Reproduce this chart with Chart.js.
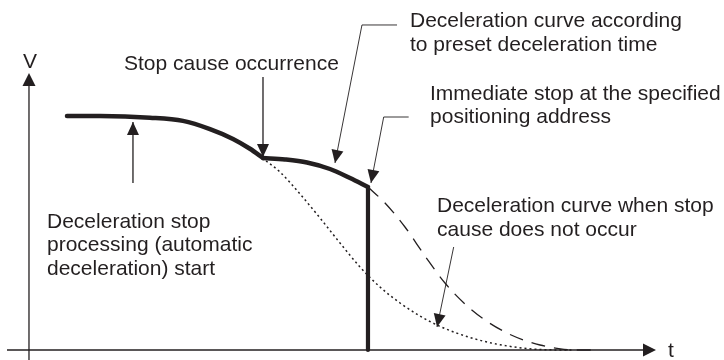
<!DOCTYPE html>
<html>
<head>
<meta charset="utf-8">
<script src="https://cdn.jsdelivr.net/npm/chart.js@4/dist/chart.umd.min.js"></script>
<style>
  html, body { margin: 0; padding: 0; background: #fff; }
  canvas { display: block; }
</style>
</head>
<body>
<canvas id="chart" width="724" height="360"></canvas>
<script>
// speed V (% of running speed) against time t (0..100 = end of t axis)
const runT = [6.07, 11.34, 19.33, 24.6, 28.91, 32.59, 35.3, 37.38];
const runV = [100, 100, 99.3, 97.9, 94.4, 90.2, 86.0, 82.05];
const presetT = [37.38, 40.89, 44.41, 48.08, 51.28, 54.15];
const presetV = [82.05, 81.41, 80.13, 77.35, 73.5, 69.66];
const stopT = [54.15, 54.15];
const stopV = [69.66, 0];
const presetRestT = [54.15, 56.87, 60.06, 63.26, 66.45, 69.65, 72.84, 76.36, 79.23, 81.63, 84.35, 86.9, 90.1];
const presetRestV = [69.66, 62.82, 52.56, 40.17, 28.63, 19.66, 12.82, 7.26, 4.06, 2.14, 0.73, 0, 0];
const noCauseT = [37.22, 40.1, 43.29, 46.49, 49.68, 52.88, 56.07, 59.27, 62.46, 65.65, 70.45, 75.24, 81.63, 86.9];
const noCauseV = [82.05, 76.07, 66.67, 56.41, 45.73, 35.47, 26.92, 20.09, 14.53, 10.09, 5.34, 2.26, 0.21, 0];

// annotation texts, anchored at (t, V) of the first line's left baseline
const labelLines = [
    ['Stop cause occurrence'],
    ['Deceleration curve according', 'to preset deceleration time'],
    ['Immediate stop at the specified', 'positioning address'],
    ['Deceleration stop', 'processing (automatic', 'deceleration) start'],
    ['Deceleration curve when stop', 'cause does not occur']
];
const labelT = [15.18, 60.86, 64.06, 2.88, 65.18];
const labelV = [119.66, 138.0, 106.84, 52.14, 58.97];

// leader arrows: polyline points in (t, V), last point is the arrow tip
const arrowT = [[37.38, 37.38], [16.61, 16.61], [58.79, 53.19, 48.88], [60.65, 56.66, 54.63], [67.84, 65.18]];
const arrowV = [[116.67, 82.48], [71.37, 97.44], [138.9, 138.9, 79.91], [99.57, 99.57, 71.37], [44.02, 9.83]];
const arrowThin = [false, false, true, true, true];

const axisT = [-3.51, 100.16];
const axisV = [-4.27, 118.4];

const ink = '#231f20';
const font = '21px "Liberation Sans", Arial, sans-serif';

function pts(ts, vs) {
    return ts.map((t, i) => ({ x: t, y: vs[i] }));
}

function arrowHead(ctx, x0, y0, x1, y1, len, half) {
    const a = Math.atan2(y1 - y0, x1 - x0);
    ctx.beginPath();
    ctx.moveTo(x1, y1);
    ctx.lineTo(x1 - len * Math.cos(a) + half * Math.sin(a), y1 - len * Math.sin(a) - half * Math.cos(a));
    ctx.lineTo(x1 - len * Math.cos(a) - half * Math.sin(a), y1 - len * Math.sin(a) + half * Math.cos(a));
    ctx.closePath();
    ctx.fill();
}

const diagram = {
    id: 'diagram',
    beforeDatasetsDraw(chart) {
        const ctx = chart.ctx;
        const xs = chart.scales.x, ys = chart.scales.y;
        ctx.save();
        ctx.strokeStyle = ink;
        ctx.fillStyle = ink;
        ctx.lineWidth = 1.3;
        // t axis
        const y0 = ys.getPixelForValue(0);
        const xa = xs.getPixelForValue(axisT[0]), xb = xs.getPixelForValue(axisT[1]);
        ctx.beginPath();
        ctx.moveTo(xa, y0);
        ctx.lineTo(xb - 8, y0);
        ctx.stroke();
        arrowHead(ctx, xa, y0, xb, y0, 13, 6.5);
        // V axis
        const x0 = xs.getPixelForValue(0);
        const ya = ys.getPixelForValue(axisV[0]), yb = ys.getPixelForValue(axisV[1]);
        ctx.beginPath();
        ctx.moveTo(x0, ya);
        ctx.lineTo(x0, yb + 8);
        ctx.stroke();
        arrowHead(ctx, x0, ya, x0, yb, 13, 6.5);
        ctx.font = font;
        ctx.textBaseline = 'alphabetic';
        ctx.textAlign = 'center';
        ctx.fillText('V', x0 + 1, ys.getPixelForValue(120.5));
        ctx.textAlign = 'left';
        ctx.fillText('t', xs.getPixelForValue(102.08), ys.getPixelForValue(-2.99));
        ctx.restore();
    },
    afterDatasetsDraw(chart) {
        const ctx = chart.ctx;
        const xs = chart.scales.x, ys = chart.scales.y;
        ctx.save();
        ctx.strokeStyle = ink;
        ctx.fillStyle = ink;
        arrowT.forEach((ts, i) => {
            const p = ts.map((t, j) => [xs.getPixelForValue(t), ys.getPixelForValue(arrowV[i][j])]);
            const n = p.length;
            ctx.lineWidth = arrowThin[i] ? 0.9 : 1.3;
            ctx.beginPath();
            ctx.moveTo(p[0][0], p[0][1]);
            for (let j = 1; j < n; j++) ctx.lineTo(p[j][0], p[j][1]);
            ctx.stroke();
            arrowHead(ctx, p[n - 2][0], p[n - 2][1], p[n - 1][0], p[n - 1][1], 13, 6);
        });
        ctx.font = font;
        ctx.textAlign = 'left';
        ctx.textBaseline = 'alphabetic';
        labelLines.forEach((lines, i) => {
            const x = xs.getPixelForValue(labelT[i]);
            const y = ys.getPixelForValue(labelV[i]);
            lines.forEach((s, j) => ctx.fillText(s, x, y + j * 23.5));
        });
        ctx.restore();
    }
};

new Chart(document.getElementById('chart').getContext('2d'), {
    type: 'line',
    data: {
        datasets: [
            { data: pts(runT, runV), borderColor: ink, borderWidth: 4.5, cubicInterpolationMode: 'monotone', borderCapStyle: 'round' },
            { data: pts(presetT, presetV), borderColor: ink, borderWidth: 4.5, cubicInterpolationMode: 'monotone', borderCapStyle: 'round' },
            { data: pts(stopT, stopV), borderColor: ink, borderWidth: 4.2, tension: 0, borderCapStyle: 'round' },
            { data: pts(presetRestT, presetRestV), borderColor: ink, borderWidth: 1.3, borderDash: [14, 9], cubicInterpolationMode: 'monotone' },
            { data: pts(noCauseT, noCauseV), borderColor: ink, borderWidth: 1.5, borderDash: [2, 3], cubicInterpolationMode: 'monotone' }
        ]
    },
    options: {
        responsive: false,
        animation: false,
        events: [],
        layout: { padding: 0 },
        elements: { point: { radius: 0 }, line: { fill: false } },
        datasets: { line: { clip: false } },
        plugins: { legend: { display: false }, tooltip: { enabled: false } },
        scales: {
            x: { type: 'linear', display: false, min: -4.63, max: 111.02 },
            y: { type: 'linear', display: false, min: -4.27, max: 149.57 }
        }
    },
    plugins: [diagram]
});
</script>
</body>
</html>
